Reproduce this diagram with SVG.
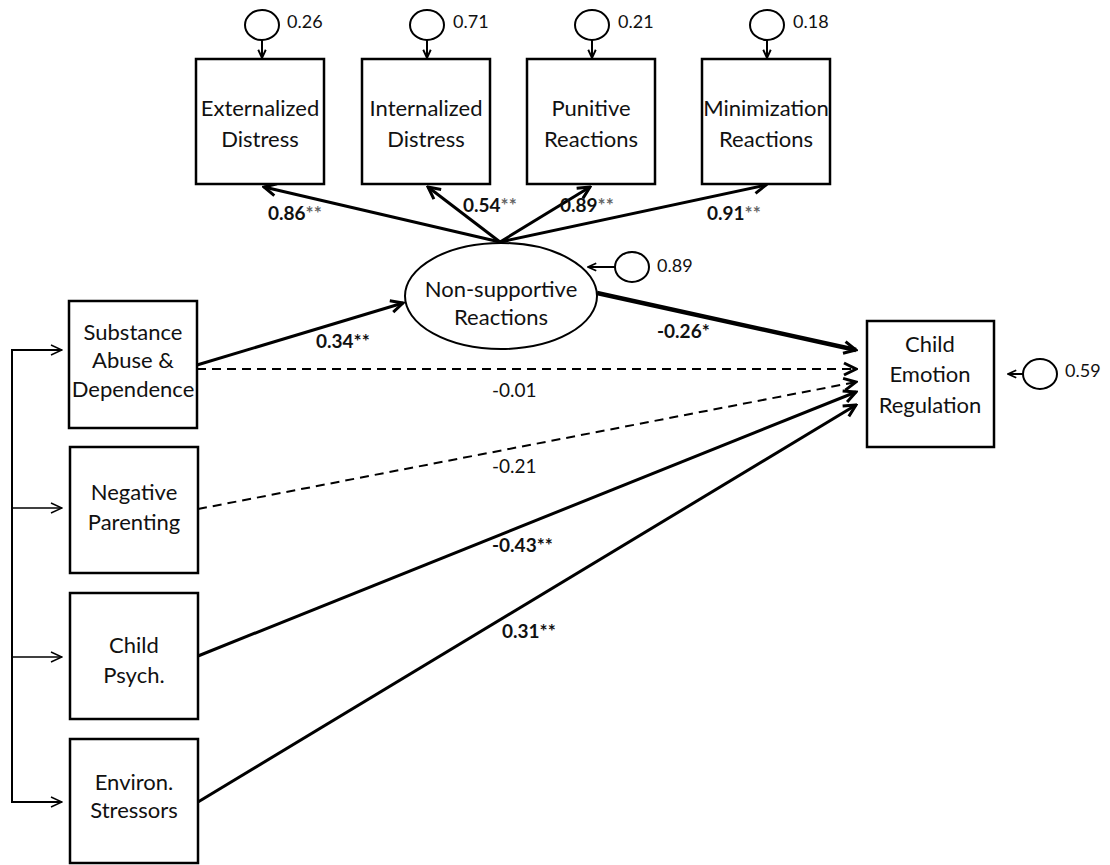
<svg xmlns="http://www.w3.org/2000/svg" width="1110" height="865" viewBox="0 0 1110 865">
<style>
.box{fill:#fff;stroke:#000;stroke-width:2.5}
.err{fill:#fff;stroke:#000;stroke-width:2}
.t{font-family:Lato,"Open Sans","Liberation Sans",sans-serif;font-size:22px;fill:#111;text-anchor:middle}
.v{font-family:Lato,"Open Sans","Liberation Sans",sans-serif;font-size:18px;fill:#111}
.b{font-family:Lato,"Open Sans","Liberation Sans",sans-serif;font-size:19px;font-weight:bold;fill:#111}
.s{fill:#666}
.p{fill:none;stroke:#000;stroke-width:3}
.d{fill:none;stroke:#000;stroke-width:2;stroke-dasharray:9,6}
.th{fill:none;stroke:#000;stroke-width:1.5}
</style>
<defs>
<marker id="ah" viewBox="0 0 16 16" refX="14" refY="8" markerWidth="16" markerHeight="16" markerUnits="userSpaceOnUse" orient="auto">
<path d="M2,2 L14,8 L2,14" fill="none" stroke="#000" stroke-width="3"/>
</marker>
<marker id="ahs" viewBox="0 0 16 16" refX="14" refY="8" markerWidth="12" markerHeight="12" markerUnits="userSpaceOnUse" orient="auto">
<path d="M3,3 L14,8 L3,13" fill="none" stroke="#000" stroke-width="2.5"/>
</marker>
<marker id="aht" viewBox="0 0 16 16" refX="15" refY="8" markerWidth="16" markerHeight="16" markerUnits="userSpaceOnUse" orient="auto">
<path d="M4,3 L15,8 L4,13" fill="none" stroke="#000" stroke-width="1.5"/>
</marker>
</defs>

<g id="connectors">
<line x1="262" y1="40" x2="262" y2="58" class="p" style="stroke-width:2" marker-end="url(#ahs)"/>
<line x1="427" y1="40" x2="427" y2="58" class="p" style="stroke-width:2" marker-end="url(#ahs)"/>
<line x1="592" y1="40" x2="592" y2="58" class="p" style="stroke-width:2" marker-end="url(#ahs)"/>
<line x1="767" y1="40" x2="767" y2="58" class="p" style="stroke-width:2" marker-end="url(#ahs)"/>
<line x1="615" y1="267" x2="588" y2="267" class="p" style="stroke-width:2" marker-end="url(#ahs)"/>
<line x1="1023" y1="374" x2="1008" y2="374" class="p" style="stroke-width:2" marker-end="url(#ahs)"/>
<line x1="500" y1="242" x2="264" y2="187" class="p" marker-end="url(#ah)"/>
<line x1="500" y1="242" x2="428" y2="187" class="p" marker-end="url(#ah)"/>
<line x1="500" y1="242" x2="590" y2="187" class="p" marker-end="url(#ah)"/>
<line x1="500" y1="242" x2="766" y2="185" class="p" marker-end="url(#ah)"/>
<line x1="197" y1="365" x2="403" y2="303" class="p" marker-end="url(#ah)"/>
<line x1="597" y1="293" x2="856" y2="350" class="p" style="stroke-width:4.5" marker-end="url(#ah)"/>
<line x1="197" y1="369" x2="856" y2="369" class="d" marker-end="url(#ah)"/>
<line x1="198" y1="509" x2="856" y2="382" class="d" marker-end="url(#ah)"/>
<line x1="198" y1="656" x2="856" y2="392" class="p" marker-end="url(#ah)"/>
<line x1="198" y1="802" x2="856" y2="405" class="p" marker-end="url(#ah)"/>
<polyline points="62,350 12,350 12,802 62,802" class="th" style="stroke-width:2"/>
<line x1="12" y1="350" x2="62" y2="350" class="th" marker-end="url(#aht)"/>
<line x1="12" y1="508" x2="62" y2="508" class="th" marker-end="url(#aht)"/>
<line x1="12" y1="657" x2="62" y2="657" class="th" marker-end="url(#aht)"/>
<line x1="12" y1="802" x2="62" y2="802" class="th" marker-end="url(#aht)"/>
<text x="268" y="220" class="b">0.86<tspan class="s">**</tspan></text>
<text x="463" y="212" class="b">0.54<tspan class="s">**</tspan></text>
<text x="560" y="212" class="b">0.89<tspan class="s">**</tspan></text>
<text x="707" y="220" class="b">0.91<tspan class="s">**</tspan></text>
<text x="316" y="348" class="b">0.34**</text>
<text x="657" y="338" class="b">-0.26*</text>
<text x="492" y="397" class="v" style="font-size:19px">-0.01</text>
<text x="492" y="473" class="v" style="font-size:19px">-0.21</text>
<text x="492" y="552" class="b">-0.43**</text>
<text x="502" y="638" class="b">0.31**</text>
</g>

<g id="ext">
<rect x="196" y="59" width="128" height="125" class="box"/>
<text x="260" y="116" class="t">Externalized</text>
<text x="260" y="147" class="t">Distress</text>
<ellipse cx="262" cy="25" rx="17" ry="15" class="err"/>
<text x="287" y="28" class="v">0.26</text>
</g>
<g id="int">
<rect x="362" y="59" width="128" height="125" class="box"/>
<text x="426" y="116" class="t">Internalized</text>
<text x="426" y="147" class="t">Distress</text>
<ellipse cx="427" cy="25" rx="17" ry="15" class="err"/>
<text x="453" y="28" class="v">0.71</text>
</g>
<g id="pun">
<rect x="527" y="59" width="128" height="125" class="box"/>
<text x="591" y="116" class="t">Punitive</text>
<text x="591" y="147" class="t">Reactions</text>
<ellipse cx="592" cy="25" rx="17" ry="15" class="err"/>
<text x="618" y="28" class="v">0.21</text>
</g>
<g id="min">
<rect x="702" y="59" width="128" height="125" class="box"/>
<text x="766" y="116" class="t">Minimization</text>
<text x="766" y="147" class="t">Reactions</text>
<ellipse cx="767" cy="25" rx="17" ry="15" class="err"/>
<text x="793" y="28" class="v">0.18</text>
</g>
<g id="nsr">
<ellipse cx="501" cy="296" rx="96" ry="53" class="box" style="stroke-width:2"/>
<text x="501" y="297" class="t">Non-supportive</text>
<text x="501" y="325" class="t">Reactions</text>
<ellipse cx="632" cy="267" rx="17" ry="15" class="err"/>
<text x="657" y="272" class="v">0.89</text>
</g>
<g id="sub">
<rect x="69" y="301" width="128" height="127" class="box"/>
<text x="133" y="340" class="t">Substance</text>
<text x="133" y="368" class="t">Abuse &amp;</text>
<text x="133" y="397" class="t">Dependence</text>
</g>
<g id="neg">
<rect x="70" y="447" width="128" height="126" class="box"/>
<text x="134" y="500" class="t">Negative</text>
<text x="134" y="530" class="t">Parenting</text>
</g>
<g id="psy">
<rect x="70" y="593" width="128" height="126" class="box"/>
<text x="134" y="653" class="t">Child</text>
<text x="134" y="683" class="t">Psych.</text>
</g>
<g id="env">
<rect x="70" y="739" width="128" height="124" class="box"/>
<text x="134" y="790" class="t">Environ.</text>
<text x="134" y="818" class="t">Stressors</text>
</g>
<g id="cer">
<rect x="867" y="321" width="127" height="126" class="box"/>
<text x="930" y="352" class="t">Child</text>
<text x="930" y="382" class="t">Emotion</text>
<text x="930" y="413" class="t">Regulation</text>
<ellipse cx="1040" cy="374" rx="17" ry="15" class="err"/>
<text x="1065" y="377" class="v">0.59</text>
</g>
</svg>
